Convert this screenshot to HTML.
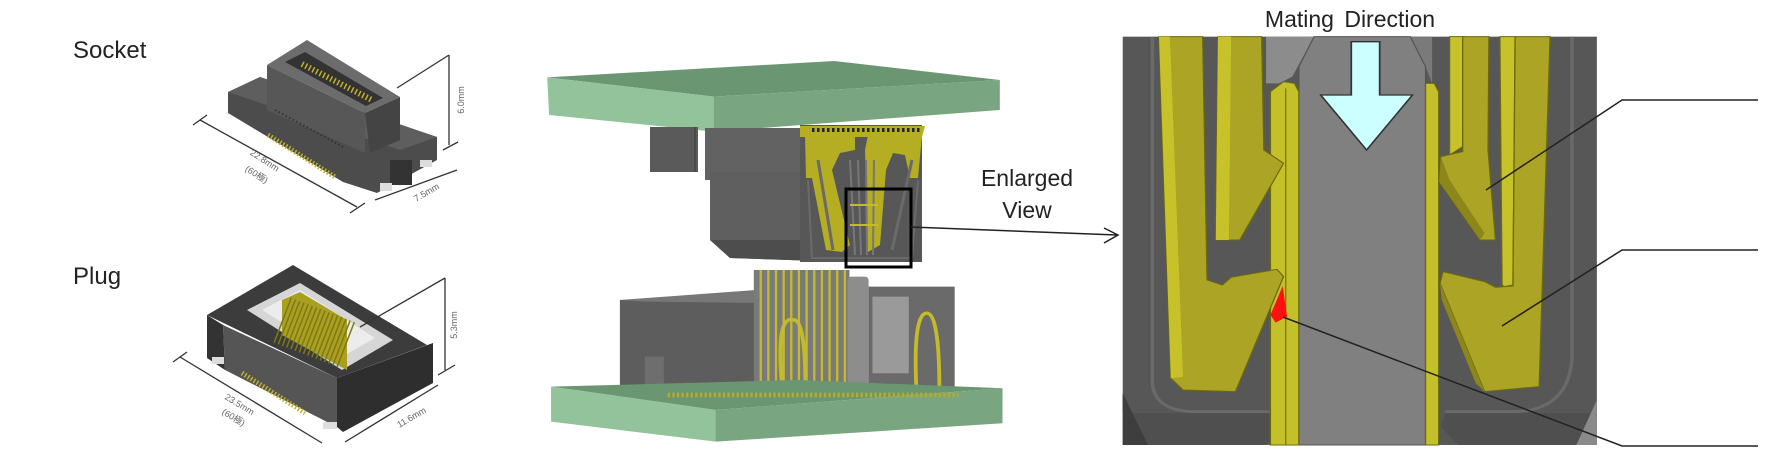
<!DOCTYPE html>
<html><head><meta charset="utf-8"><style>
html,body{margin:0;padding:0;background:#fff;width:1782px;height:468px;overflow:hidden}
svg{display:block}
text{font-family:"Liberation Sans","Noto Sans CJK JP",sans-serif}
</style></head><body>
<svg width="1782" height="468" viewBox="0 0 1782 468" xmlns="http://www.w3.org/2000/svg">
<rect width="1782" height="468" fill="#fff"/>

<!-- SOCKET small -->
<polygon points="228,92 260,77 437,137 437,160 377,193 343,182 228,113" fill="#4c4c4c"/>
<polygon points="228,92 260,77 437,137 400,150" fill="#5e5e5e"/>
<rect x="390" y="160" width="22" height="25" fill="#333"/>
<rect x="380" y="183" width="12" height="8" fill="#ddd"/>
<rect x="420" y="160" width="12" height="7" fill="#ddd"/>
<polygon points="267,65 307,40 400,97 365,113" fill="#6c6c6c"/>
<polygon points="267,65 365,113 365,153 267,110" fill="#575757"/>
<polygon points="365,113 400,97 400,140 370,153" fill="#444"/>
<polygon points="285,62 305,52 383,98 366,106" fill="#333"/>
<line x1="302" y1="64" x2="372" y2="100" stroke="#c2b22a" stroke-width="6" stroke-dasharray="1.5 2.5"/>
<line x1="268" y1="135" x2="335" y2="177" stroke="#c2b22a" stroke-width="5" stroke-dasharray="1.5 2"/>
<line x1="275" y1="110" x2="345" y2="148" stroke="#333" stroke-width="2" stroke-dasharray="1.5 2.5"/>
<!-- PLUG small -->
<polygon points="207,315 293,265 427,345 337,378" fill="#3c3c3c"/>
<polygon points="223,325 337,378 337,427 225,370" fill="#555"/>
<polygon points="207,315 223,325 225,370 207,358" fill="#333"/>
<polygon points="337,378 433,343 433,383 343,432 337,427" fill="#2e2e2e"/>
<polygon points="247,310 300,283 393,340 342,370" fill="#d6d6d6"/>
<polygon points="262,310 300,290 375,338 340,358" fill="#ececec"/>
<polygon points="282,300 300,292 347,320 347,370 282,335" fill="#a9a020"/>
<line x1="282" y1="320" x2="347" y2="345" stroke="#7e7816" stroke-width="48" stroke-dasharray="1.5 3"/>
<line x1="242" y1="373" x2="305" y2="413" stroke="#c2b22a" stroke-width="5" stroke-dasharray="1.5 2"/>
<rect x="212" y="357" width="12" height="7" fill="#ddd"/>
<rect x="323" y="422" width="14" height="7" fill="#ddd"/>
<g stroke="#333" stroke-width="1.3" fill="none">
  <line x1="200" y1="120" x2="357" y2="207"/><line x1="193" y1="125" x2="207" y2="115"/><line x1="350" y1="213" x2="365" y2="203"/>
  <line x1="375" y1="200" x2="457" y2="170"/>
  <line x1="449" y1="55" x2="449" y2="145"/><line x1="397" y1="88" x2="449" y2="55"/><line x1="443" y1="150" x2="458" y2="142"/>
  <line x1="180" y1="357" x2="322" y2="443"/><line x1="173" y1="362" x2="187" y2="352"/>
  <line x1="345" y1="442" x2="438" y2="385"/>
  <line x1="445" y1="278" x2="445" y2="370"/><line x1="360" y1="327" x2="445" y2="278"/><line x1="438" y1="375" x2="455" y2="365"/>
</g>
<text x="73" y="58" font-size="24" fill="#222">Socket</text>
<text x="73" y="284" font-size="24" fill="#222">Plug</text>
<g font-size="9" fill="#666">
  <text transform="translate(263,163) rotate(33)" text-anchor="middle">22.8mm</text>
  <text transform="translate(255,177) rotate(33)" text-anchor="middle">(60極)</text>
  <text transform="translate(464,100) rotate(-90)" text-anchor="middle">6.0mm</text>
  <text transform="translate(428,195) rotate(-30)" text-anchor="middle">7.5mm</text>
  <text transform="translate(238,407) rotate(31)" text-anchor="middle">23.5mm</text>
  <text transform="translate(232,420) rotate(31)" text-anchor="middle">(60極)</text>
  <text transform="translate(457,325) rotate(-90)" text-anchor="middle">5.3mm</text>
  <text transform="translate(413,420) rotate(-30)" text-anchor="middle">11.6mm</text>
</g>

<!-- MIDDLE -->
<g transform="translate(530,0) scale(0.3826,0.3333)">
  <polygon points="45,232 795,183 1228,240 480,290" fill="#6b9672"/>
  <polygon points="45,232 480,290 480,395 50,345" fill="#93c39a"/>
  <polygon points="480,290 1228,240 1228,330 480,395" fill="#7aa581"/>
  <!-- plug -->
  <rect x="235" y="900" width="460" height="290" fill="#5d5d5d"/>
  <polygon points="235,900 590,870 690,910 300,905" fill="#777"/>
  <rect x="585" y="810" width="250" height="360" fill="#7a7a7a"/>
  <line x1="600" y1="990" x2="830" y2="990" stroke="#c3bb2a" stroke-width="360" stroke-dasharray="6 14"/>
  <rect x="830" y="830" width="55" height="350" rx="10" fill="#8d8d8d"/>
  <rect x="885" y="860" width="225" height="310" fill="#6a6a6a"/>
  <rect x="895" y="890" width="95" height="230" fill="#9a9a9a"/>
  <path d="M660,1170 Q640,940 690,960 Q720,960 720,1170 M1010,1170 Q1000,930 1040,940 Q1070,950 1070,1170" stroke="#c3bb2a" stroke-width="10" fill="none"/>
  <rect x="300" y="1070" width="50" height="100" fill="#6e6e6e"/>
  <polygon points="55,1160 700,1140 1235,1165 485,1230" fill="#6b9672"/>
  <polygon points="55,1160 485,1230 485,1325 55,1265" fill="#93c39a"/>
  <polygon points="485,1230 1235,1165 1235,1270 485,1325" fill="#7aa581"/>
  <line x1="360" y1="1185" x2="1120" y2="1185" stroke="#b5ad22" stroke-width="14" stroke-dasharray="6 6"/>
</g>
<!-- socket (page coords) -->
<rect x="650" y="127" width="48" height="45" fill="#5a5a5a"/>
<line x1="695" y1="127" x2="695" y2="172" stroke="#4a4a4a" stroke-width="2"/>
<rect x="705" y="128" width="100" height="52" fill="#626262"/>
<polygon points="710,172 850,172 850,262 730,258 710,240" fill="#5f5f5f"/>
<polygon points="710,240 850,240 850,262 730,258" fill="#4d4d4d"/>
<rect x="800" y="125" width="122" height="137" fill="#575757"/>
<polygon points="800,126 925,126 922,137 800,137" fill="#b5ad22"/>
<line x1="812" y1="130" x2="922" y2="130" stroke="#222" stroke-width="4" stroke-dasharray="2.5 2.5"/>
<polygon points="805,135 855,135 855,150 840,153 832,170 850,245 842,252 826,250 812,178 806,178" fill="#b5ad22"/>
<polygon points="868,135 922,135 918,178 910,178 905,155 893,153 886,170 880,245 868,252 865,150" fill="#b5ad22"/>
<path d="M818,160 L833,250 M912,160 L892,250" stroke="#6a6a6a" stroke-width="3" fill="none"/>
<g stroke="#777" stroke-width="2"><line x1="850" y1="160" x2="855" y2="255"/><line x1="858" y1="160" x2="861" y2="255"/><line x1="866" y1="160" x2="867" y2="255"/><line x1="874" y1="160" x2="873" y2="255"/></g>
<g stroke="#c3bb2a" stroke-width="2"><line x1="850" y1="205" x2="878" y2="205"/><line x1="850" y1="225" x2="878" y2="225"/></g>
<path d="M808,180 L812,258 L912,258 L918,180" stroke="#6a6a6a" stroke-width="2" fill="none"/>
<rect x="846" y="189" width="65" height="78" fill="none" stroke="#000" stroke-width="3"/>
<line x1="911" y1="227" x2="1117" y2="235" stroke="#222" stroke-width="1.5"/>
<polyline points="1104,228 1118,235 1104,243" fill="none" stroke="#222" stroke-width="1.5"/>
<text x="1027" y="186" font-size="23" fill="#222" text-anchor="middle">Enlarged</text>
<text x="1027" y="218" font-size="23" fill="#222" text-anchor="middle">View</text>

<!-- RIGHT: enlarged panel -->
<g transform="translate(1100,0) scale(0.437,0.3333)">
  <rect x="52" y="110" width="1085" height="1225" fill="#575757"/>
  <path d="M120,110 L120,1150 Q125,1230 210,1235 L410,1235" stroke="#6a6a6a" stroke-width="8" fill="none"/>
  <path d="M1080,110 L1080,1080 Q1070,1230 950,1235 L790,1235" stroke="#6a6a6a" stroke-width="8" fill="none"/>
  <polygon points="140,1240 410,1240 410,1290 380,1335 110,1335 52,1180 52,1240" fill="#4f4f4f"/>
  <polygon points="52,1180 110,1335 52,1335" fill="#3e3e3e"/>
  <polygon points="790,1240 1137,1240 1137,1250 1090,1335 820,1335 780,1280" fill="#4f4f4f"/>
  <polygon points="1137,1200 1137,1335 1090,1335" fill="#8a8a8a"/>
  <polygon points="380,110 490,110 440,230 410,250 380,250" fill="#8c8c8c"/>
  <polygon points="710,110 760,110 760,250 745,200" fill="#7a7a7a"/>
  <path d="M490,110 L710,110 L745,200 L745,1335 L455,1335 L455,200 Z" fill="#808080" stroke="#555" stroke-width="3"/>
  <path d="M390,275 L420,245 L445,250 L455,275 L455,1335 L390,1335 Z" fill="#c4c02a" stroke="#6b6a10" stroke-width="3"/>
  <line x1="425" y1="265" x2="425" y2="1335" stroke="#7a7816" stroke-width="3"/>
  <path d="M745,250 L765,250 L775,275 L775,1335 L745,1335 Z" fill="#c4c02a" stroke="#6b6a10" stroke-width="3"/>
  <polygon points="135,110 235,110 245,840 280,855 300,832 405,808 420,830 310,1175 190,1170 162,1135" fill="#aba424" stroke="#6b6a10" stroke-width="3"/>
  <polygon points="135,110 160,110 190,1130 162,1135" fill="#c8c22a"/>
  <polygon points="270,110 370,110 375,450 420,490 320,720 265,720" fill="#aba424" stroke="#6b6a10" stroke-width="3"/>
  <polygon points="270,110 300,110 295,720 265,720" fill="#c8c22a"/>
  <polygon points="800,110 835,110 830,440 800,465" fill="#c8c22a" stroke="#6b6a10" stroke-width="3"/>
  <polygon points="830,110 890,110 888,450 905,720 870,720 776,545 780,470 830,455" fill="#aba424" stroke="#6b6a10" stroke-width="3"/>
  <polygon points="780,470 776,545 870,720 880,700 800,540" fill="#8d8719"/>
  <polygon points="915,110 950,110 945,855 925,860 920,855" fill="#c8c22a" stroke="#6b6a10" stroke-width="3"/>
  <polygon points="950,110 1030,110 1005,1160 880,1175 778,850 785,815 880,845 905,862 945,858" fill="#aba424" stroke="#6b6a10" stroke-width="3"/>
  <polygon points="778,850 880,1175 860,1150 782,900" fill="#8d8719"/>
  <polygon points="418,858 428,950 402,968 390,945" fill="#ff1010"/>
  <polygon points="575,125 640,125 640,285 715,285 610,450 505,285 575,285" fill="#ccffff" stroke="#333" stroke-width="4"/>
</g>
<text x="1350" y="27" font-size="23" fill="#222" text-anchor="middle" word-spacing="4">Mating Direction</text>
<g stroke="#222" stroke-width="1.5" fill="none">
  <polyline points="1486,190 1622,100 1758,100"/>
  <polyline points="1502,326 1622,250 1758,250"/>
  <polyline points="1283,317 1622,446 1758,446"/>
</g>
</svg>
</body></html>
